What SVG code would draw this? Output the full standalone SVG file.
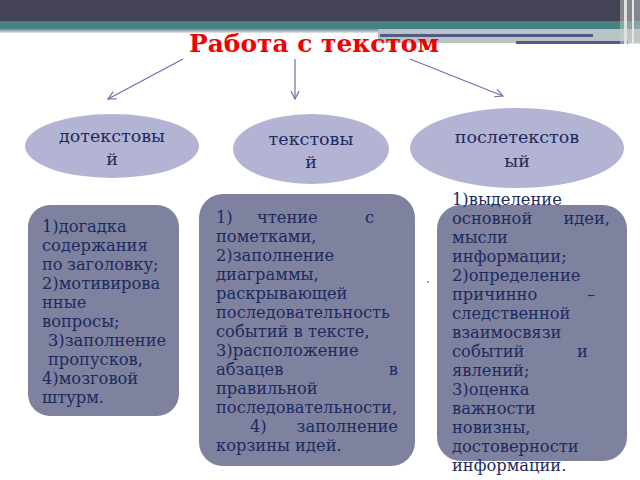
<svg xmlns="http://www.w3.org/2000/svg" width="640" height="480" viewBox="0 0 640 480">
<style>
.t{font-family:"DejaVu Serif","Liberation Serif",serif;font-size:16.3px;fill:#1c2a5e}
.h{font-family:"DejaVu Serif","Liberation Serif",serif;font-size:17.5px;fill:#1c2a5e;text-anchor:middle}
.e{fill:#b3b3d3}
.b{fill:#7f829f}
.c{stroke:#7070a8;stroke-width:1.2;fill:none;marker-end:url(#a)}
</style>
<defs>
<marker id="a" markerWidth="10" markerHeight="10" refX="9" refY="5" orient="auto" markerUnits="userSpaceOnUse">
<path d="M1,1 L9,5 L1,9" fill="none" stroke="#7070a8" stroke-width="1.2"/>
</marker>
<linearGradient id="g" x1="0" y1="0" x2="0" y2="1">
<stop offset="0" stop-color="#6e8888"/><stop offset="1" stop-color="#e8e8e8"/>
</linearGradient>
</defs>
<rect width="640" height="480" fill="#fff"/>
<g id="header">
<rect x="0" y="0" width="640" height="22" fill="#434355"/>
<rect x="0" y="21" width="640" height="8" fill="#468282"/>
<rect x="0" y="29" width="640" height="4" fill="url(#g)"/>
<rect x="378" y="29" width="262" height="14" fill="#b6c4c4"/>
<rect x="380" y="34" width="213" height="3" fill="#55598a"/>
<rect x="516" y="41" width="112" height="3" fill="#55598a"/>
<rect x="620" y="0" width="20" height="44" fill="#c8cccc" opacity="0.5"/>
<rect x="624" y="0" width="3" height="44" fill="#e0e0e0"/>
<rect x="632" y="0" width="2" height="44" fill="#e6e6e6"/>
</g>
<text id="title" x="314" y="52" text-anchor="middle" font-family="DejaVu Serif,Liberation Serif,serif" font-weight="bold" font-size="24" fill="#f00000" textLength="250" lengthAdjust="spacingAndGlyphs">Работа с текстом</text>
<g id="connectors">
<path class="c" d="M183,59 L108,99"/>
<path class="c" d="M295,59 L295,99"/>
<path class="c" d="M410,59 L503,96"/>
</g>
<g id="n1">
<ellipse class="e" cx="112" cy="146" rx="87" ry="32"/>
<text class="h" x="112" y="142">дотекстовы</text>
<text class="h" x="112" y="165">й</text>
</g>
<g id="n2">
<ellipse class="e" cx="311" cy="149" rx="78" ry="35"/>
<text class="h" x="311" y="145">текстовы</text>
<text class="h" x="311" y="168">й</text>
</g>
<g id="n3">
<ellipse class="e" cx="517" cy="148" rx="107" ry="40"/>
<text class="h" x="517" y="143">послетекстов</text>
<text class="h" x="517" y="167">ый</text>
</g>
<g id="box1">
<rect class="b" x="28" y="205" width="151" height="211" rx="22"/>
<text class="t" x="42" y="232">1)догадка</text>
<text class="t" x="42" y="251">содержания</text>
<text class="t" y="270"><tspan x="42">по</tspan><tspan x="67">заголовку;</tspan></text>
<text class="t" x="42" y="289">2)мотивирова</text>
<text class="t" x="42" y="308">нные</text>
<text class="t" x="42" y="327">вопросы;</text>
<text class="t" x="48" y="346">3)заполнение</text>
<text class="t" x="48" y="365">пропусков,</text>
<text class="t" x="42" y="384">4)мозговой</text>
<text class="t" x="42" y="403">штурм.</text>
</g>
<g id="box2">
<rect class="b" x="199" y="194" width="216" height="272" rx="24"/>
<text class="t" y="223"><tspan x="216">1)</tspan><tspan x="257">чтение</tspan><tspan x="365">с</tspan></text>
<text class="t" x="216" y="242">пометками,</text>
<text class="t" x="216" y="261">2)заполнение</text>
<text class="t" x="216" y="280">диаграммы,</text>
<text class="t" x="216" y="299">раскрывающей</text>
<text class="t" x="216" y="318">последовательность</text>
<text class="t" x="216" y="337">событий в тексте,</text>
<text class="t" x="216" y="356">3)расположение</text>
<text class="t" y="375"><tspan x="216">абзацев</tspan><tspan x="398" text-anchor="end">в</tspan></text>
<text class="t" x="216" y="394">правильной</text>
<text class="t" x="216" y="413">последовательности,</text>
<text class="t" y="432"><tspan x="250">4)</tspan><tspan x="398" text-anchor="end">заполнение</tspan></text>
<text class="t" x="216" y="451">корзины идей.</text>
</g>
<g id="box3">
<rect class="b" x="437" y="205" width="190" height="256" rx="24"/>
<text class="t" x="452" y="205">1)выделение</text>
<text class="t" y="224"><tspan x="452">основной</tspan><tspan x="610" text-anchor="end">идеи,</tspan></text>
<text class="t" x="452" y="243">мысли</text>
<text class="t" x="452" y="262">информации;</text>
<text class="t" x="452" y="281">2)определение</text>
<text class="t" y="300"><tspan x="452">причинно</tspan><tspan x="587">–</tspan></text>
<text class="t" x="452" y="319">следственной</text>
<text class="t" x="452" y="338">взаимосвязи</text>
<text class="t" y="357"><tspan x="452">событий</tspan><tspan x="577">и</tspan></text>
<text class="t" x="452" y="376">явлений;</text>
<text class="t" x="452" y="395">3)оценка</text>
<text class="t" x="452" y="414">важности</text>
<text class="t" x="452" y="433">новизны,</text>
<text class="t" x="452" y="452">достоверности</text>
<text class="t" x="452" y="471">информации.</text>
</g>
<circle cx="428" cy="282" r="0.8" fill="#333"/>
</svg>
